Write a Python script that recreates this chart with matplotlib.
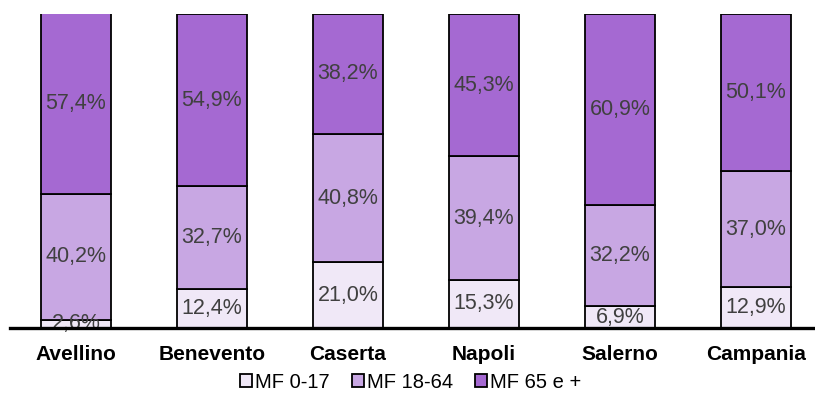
import numpy as np
from matplotlib import pyplot as plt

plt.rcParams['font.family'] = ['Liberation Sans', 'DejaVu Sans']

provinces = ['Avellino', 'Benevento', 'Caserta', 'Napoli', 'Salerno', 'Campania']
mf_0_17 = [2.6, 12.4, 21.0, 15.3, 6.9, 12.9]
mf_18_64 = [40.2, 32.7, 40.8, 39.4, 32.2, 37.0]
mf_65 = [57.4, 54.9, 38.2, 45.3, 60.9, 50.1]
series_names = ['MF 0-17', 'MF 18-64', 'MF 65 e +']
colors = ['#F0E8F7', '#C8A7E3', '#A569D2']

fig = plt.figure(figsize=(8.15, 4.01), dpi=100)
ax = fig.add_axes([10 / 815, (401 - 328) / 401, 805 / 815, (328 - 14) / 401])

x = np.arange(len(provinces))
bottom = np.zeros(len(provinces))
for vals, name, c in zip([mf_0_17, mf_18_64, mf_65], series_names, colors):
    vals = np.array(vals)
    ax.bar(x, vals, 0.51, bottom=bottom, color=c, edgecolor='black',
           linewidth=1.3, label=name, zorder=2)
    for xi, b, v in zip(x, bottom, vals):
        ax.text(xi, b + v / 2, ('%.1f%%' % v).replace('.', ','),
                ha='center', va='center', fontsize=15.5, color='#404040', zorder=3)
    bottom += vals

ax.set_xlim(-0.485, 5.434)
ax.set_ylim(0, 100)
for s in ['top', 'right', 'left']:
    ax.spines[s].set_visible(False)
ax.spines['bottom'].set_linewidth(2.4)
ax.spines['bottom'].set_zorder(4)
ax.set_yticks([])
ax.set_xticks(x)
ax.set_xticklabels(provinces, fontsize=15, fontweight='bold')
ax.tick_params(axis='x', length=0, pad=12)

ax.legend(loc='center', bbox_to_anchor=(0.5 - 2 / 805, (401 - 382 - 73) / 314),
          ncol=3, frameon=False, fontsize=14.5, handlelength=0.6, handleheight=0.6,
          handletextpad=0.15, columnspacing=1.1, borderpad=0)

plt.savefig('out.png')
